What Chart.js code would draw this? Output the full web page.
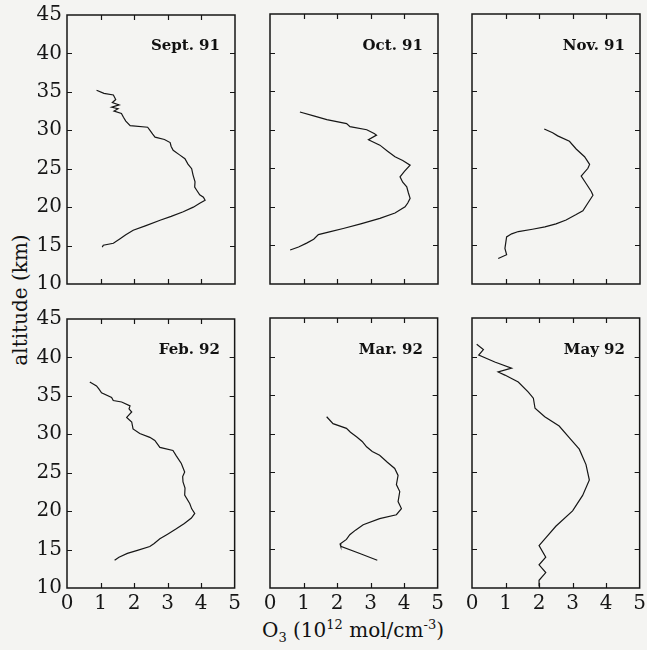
<!DOCTYPE html>
<html>
<head>
<meta charset="utf-8">
<script src="https://cdn.jsdelivr.net/npm/chart.js@4.4.1/dist/chart.umd.min.js"></script>
<style>
  body { margin:0; background:#f4f4f2; width:647px; height:650px; position:relative; overflow:hidden;
         font-family:"DejaVu Serif", serif; color:#111; }
  canvas { position:absolute; }
  .ptitle { position:absolute; font-weight:bold; font-size:15px; white-space:nowrap; transform:translate(-100%,-50%); }
  #ylab { position:absolute; left:20px; top:300px; transform:translate(-50%,-50%) rotate(-90deg); font-size:20px; white-space:nowrap; }
  #xlab { position:absolute; left:353px; top:631px; transform:translate(-50%,-50%); font-size:20px; white-space:nowrap; }
  sub, sup { font-size:13px; }
</style>
</head>
<body>
<div id="ylab">altitude (km)</div>
<div id="xlab">O<sub>3</sub> (10<sup>12</sup> mol/cm<sup>-3</sup>)</div>
<script>
// ==== DATA ====
const PANEL_LABELS = ['Sept. 91', 'Oct. 91', 'Nov. 91', 'Feb. 92', 'Mar. 92', 'May 92'];
const X_TICKS = [0, 1, 2, 3, 4, 5];
const Y_TICKS = [10, 15, 20, 25, 30, 35, 40, 45];

const sep91_alt = [35.2,34.8,34.6,34.0,33.6,33.3,33.0,32.8,32.5,32.2,31.7,31.2,30.6,30.4,30.0,29.5,29.1,28.8,28.4,27.9,27.4,26.8,26.3,25.6,25.0,24.2,23.3,22.6,22.2,21.6,21.3,20.9,20.5,20.0,19.4,18.8,18.3,17.6,17.0,16.4,15.9,15.3,15.05,14.8];
const sep91_o3  = [0.88,1.10,1.38,1.45,1.35,1.55,1.33,1.52,1.40,1.62,1.68,1.75,1.88,2.40,2.47,2.55,2.62,2.90,3.07,3.10,3.16,3.35,3.51,3.60,3.71,3.75,3.81,3.80,3.86,3.95,4.06,4.11,3.95,3.76,3.46,3.10,2.77,2.35,1.97,1.75,1.58,1.38,1.08,1.05];

const oct91_alt = [32.3,31.8,31.3,30.8,30.4,30.0,29.5,29.3,28.7,28.0,27.2,26.5,26.0,25.4,24.6,23.9,23.2,22.6,21.8,21.1,20.5,20.0,19.2,18.5,17.8,17.2,16.8,16.4,15.8,15.3,14.8,14.4];
const oct91_o3  = [0.89,1.30,1.69,2.28,2.38,2.88,3.10,3.17,2.93,3.27,3.50,3.72,3.95,4.17,4.00,3.87,3.95,4.07,4.12,4.17,4.10,4.02,3.72,3.27,2.70,2.18,1.80,1.44,1.30,1.09,0.85,0.60];

const nov91_alt = [30.1,29.6,29.2,28.5,27.5,26.5,25.5,25.0,24.0,23.0,22.0,21.5,20.5,19.5,19.0,18.3,17.8,17.4,17.1,16.8,16.5,16.1,14.6,13.8,13.3];
const nov91_o3  = [2.15,2.40,2.55,2.90,3.10,3.35,3.50,3.45,3.25,3.40,3.55,3.60,3.45,3.30,3.10,2.80,2.50,2.17,1.80,1.38,1.18,1.03,0.98,1.03,0.78];

const feb92_alt = [36.8,36.3,35.9,35.4,34.8,34.4,34.2,33.7,33.3,32.9,32.2,31.6,30.7,30.1,29.6,29.2,28.3,27.9,27.2,26.2,25.1,24.5,23.8,23.0,22.1,21.0,20.3,19.7,19.1,18.4,17.7,17.0,16.4,15.8,15.4,14.9,14.5,14.0,13.6];
const feb92_o3  = [0.68,0.88,0.95,1.03,1.33,1.38,1.63,1.88,1.85,1.93,1.78,1.93,1.97,2.17,2.47,2.62,2.77,3.16,3.26,3.41,3.51,3.45,3.46,3.52,3.51,3.66,3.72,3.81,3.71,3.50,3.26,3.00,2.77,2.60,2.47,2.10,1.80,1.55,1.42];

const mar92_alt = [32.2,31.3,30.7,30.2,29.6,29.0,28.3,27.7,27.2,26.3,25.5,24.6,23.4,22.5,21.2,20.3,19.5,19.0,18.2,17.5,16.9,16.3,15.7,15.4,14.5,13.6];
const mar92_o3  = [1.69,1.88,2.28,2.40,2.58,2.75,2.88,3.05,3.27,3.50,3.72,3.82,3.77,3.87,3.82,3.92,3.77,3.27,2.78,2.55,2.38,2.28,2.09,2.11,2.66,3.20];

const may92_alt = [41.6,40.9,40.2,39.3,38.5,38.0,37.6,36.7,35.4,34.6,33.3,32.2,31.0,29.5,28.0,26.0,24.0,22.0,20.0,18.0,16.5,15.5,14.0,13.0,12.0,11.0,10.2];
const may92_o3  = [0.14,0.34,0.20,0.68,1.18,0.78,0.98,1.38,1.68,1.83,1.88,2.17,2.60,2.90,3.20,3.40,3.50,3.30,3.00,2.50,2.20,2.00,2.20,2.00,2.20,2.00,2.00];

const SERIES = [
  [sep91_o3, sep91_alt], [oct91_o3, oct91_alt], [nov91_o3, nov91_alt],
  [feb92_o3, feb92_alt], [mar92_o3, mar92_alt], [may92_o3, may92_alt]
];

// ==== LAYOUT ====
const PANEL_X = [67, 270, 472];
const PANEL_Y = [14, 318];
const PW = 168, PH = 270;
const PAD_L = 70, PAD_T = 16, PAD_R = 10, PAD_B = 40;
const TICK = 5;
const INK = '#161616';

// frame + inward ticks on all four sides
const frameTicks = {
  id: 'frameTicks',
  afterDatasetsDraw(chart) {
    const {ctx, chartArea: a, scales: {x, y}} = chart;
    ctx.save();
    ctx.strokeStyle = INK;
    ctx.lineWidth = 1.5;
    ctx.strokeRect(a.left, a.top, a.right - a.left, a.bottom - a.top);
    ctx.lineWidth = 1.2;
    ctx.beginPath();
    x.ticks.forEach(t => {
      if (t.value <= x.min || t.value >= x.max) return;
      const px = Math.round(x.getPixelForValue(t.value)) + 0.5;
      ctx.moveTo(px, a.bottom); ctx.lineTo(px, a.bottom - TICK);
      ctx.moveTo(px, a.top);    ctx.lineTo(px, a.top + TICK);
    });
    y.ticks.forEach(t => {
      if (t.value <= y.min || t.value >= y.max) return;
      const py = Math.round(y.getPixelForValue(t.value)) + 0.5;
      ctx.moveTo(a.left, py);  ctx.lineTo(a.left + TICK, py);
      ctx.moveTo(a.right, py); ctx.lineTo(a.right - TICK, py);
    });
    ctx.stroke();
    ctx.restore();
  }
};

const tickFont = {family: '"DejaVu Serif", serif', size: 20};

function makePanel(i) {
  const col = i % 3, row = Math.floor(i / 3);
  const x0 = PANEL_X[col], y0 = PANEL_Y[row];
  const [o3, alt] = SERIES[i];

  const canvas = document.createElement('canvas');
  canvas.width  = PW + PAD_L + PAD_R;
  canvas.height = PH + PAD_T + PAD_B;
  canvas.style.width  = canvas.width + 'px';
  canvas.style.height = canvas.height + 'px';
  canvas.style.left = (x0 - PAD_L) + 'px';
  canvas.style.top  = (y0 - PAD_T) + 'px';
  document.body.appendChild(canvas);

  new Chart(canvas, {
    type: 'scatter',
    data: {
      datasets: [{
        data: o3.map((v, k) => ({x: v, y: alt[k]})),
        showLine: true,
        borderColor: INK,
        borderWidth: 1.2,
        pointRadius: 0,
        tension: 0
      }]
    },
    options: {
      responsive: false,
      animation: false,
      events: [],
      layout: {padding: {left: 0, top: PAD_T, right: PAD_R, bottom: 0}},
      plugins: {legend: {display: false}, tooltip: {enabled: false}},
      scales: {
        x: {
          type: 'linear', min: 0, max: 5,
          afterBuildTicks: s => { s.ticks = X_TICKS.map(v => ({value: v})); },
          afterFit: s => { s.height = PAD_B; },
          grid: {display: false, drawTicks: false},
          border: {display: false},
          ticks: {display: row === 1, padding: 4, color: INK, font: tickFont, maxRotation: 0, autoSkip: false}
        },
        y: {
          type: 'linear', min: 10, max: 45,
          afterBuildTicks: s => { s.ticks = Y_TICKS.map(v => ({value: v})); },
          afterFit: s => { s.width = PAD_L; },
          grid: {display: false, drawTicks: false},
          border: {display: false},
          ticks: {display: col === 0, padding: 5, color: INK, font: tickFont, autoSkip: false}
        }
      }
    },
    plugins: [frameTicks]
  });

  const t = document.createElement('div');
  t.className = 'ptitle';
  t.textContent = PANEL_LABELS[i];
  t.style.left = (x0 + PW - 15) + 'px';
  t.style.top  = (y0 + 31) + 'px';
  document.body.appendChild(t);
}

for (let i = 0; i < 6; i++) makePanel(i);
</script>
</body>
</html>
